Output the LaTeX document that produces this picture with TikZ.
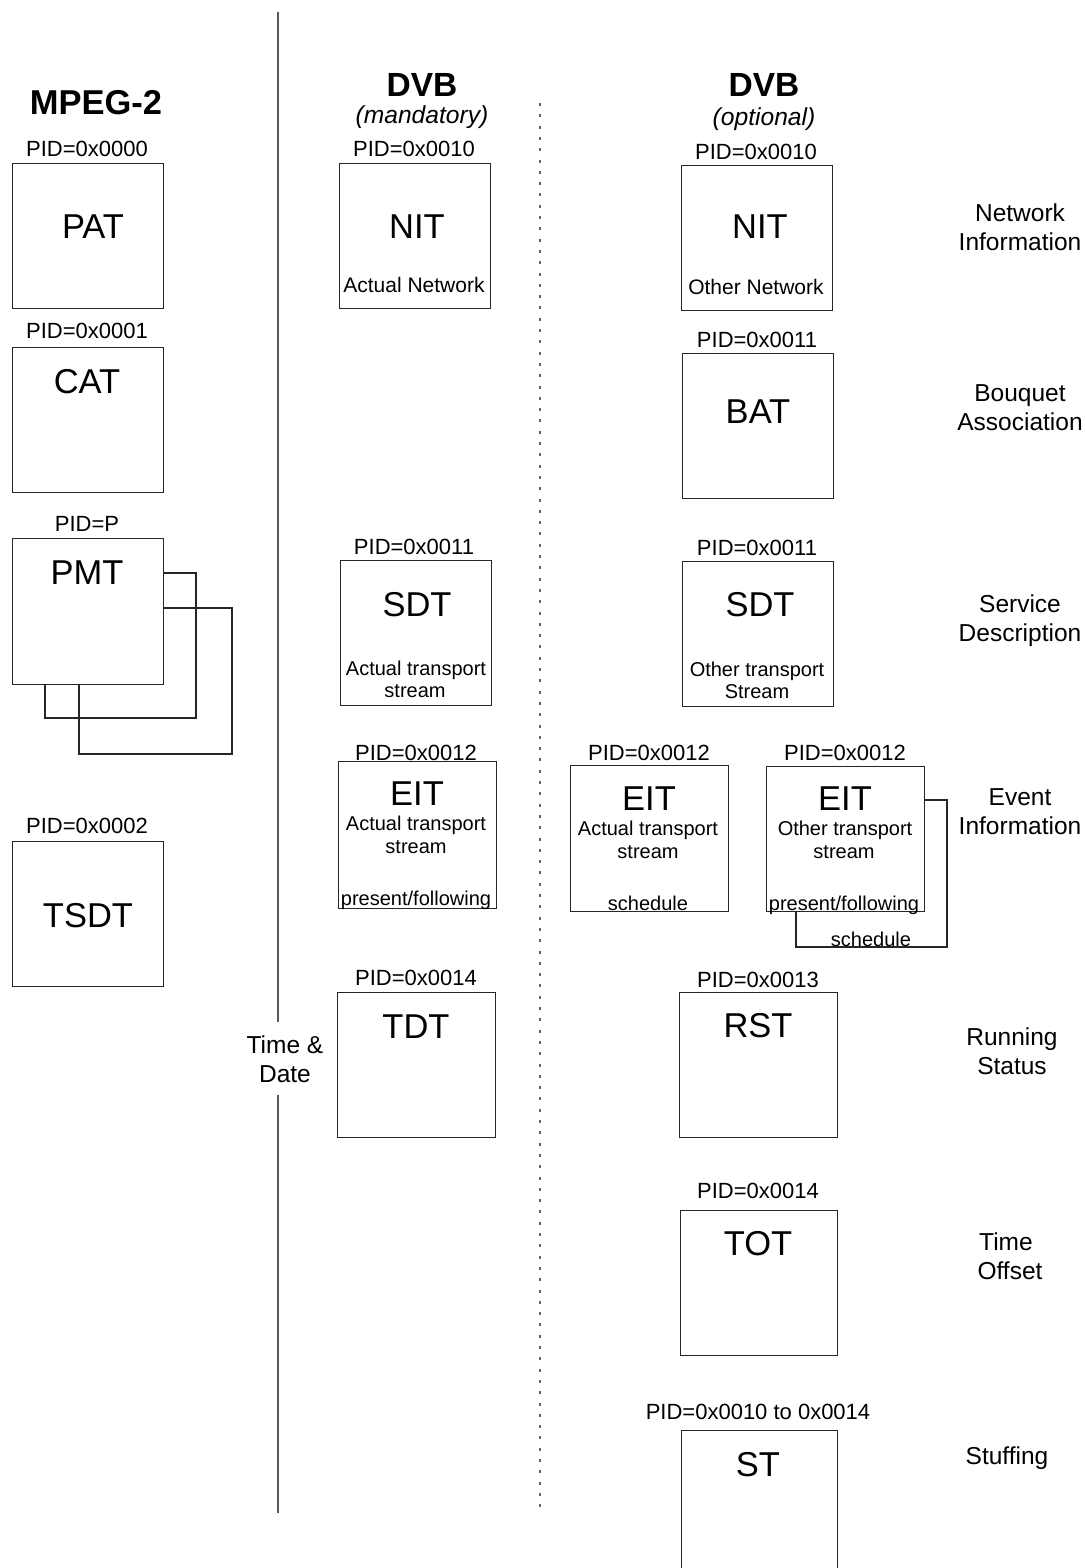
\documentclass[tikz,border=0pt]{standalone}
\usepackage{fontspec}
\setmainfont{Liberation Sans}
\begin{document}
\begin{tikzpicture}[x=1pt,y=-1pt,
  tbl/.style={draw=black!85, line width=1.1pt, fill=white, inner sep=0pt, anchor=north west},
  backbox/.style={draw=black!85, line width=1.1pt},
  pid/.style={font=\fontsize{22}{26}\selectfont, anchor=base, inner sep=0pt},
  big/.style={font=\fontsize{34.5}{40}\selectfont, anchor=base, inner sep=0pt},
  sub/.style={font=\fontsize{20}{24}\selectfont, anchor=base, inner sep=0pt},
  subn/.style={font=\fontsize{21}{25}\selectfont, anchor=base, inner sep=0pt},
  lab/.style={font=\fontsize{24.5}{29}\selectfont, anchor=base, inner sep=0pt},
  ttl/.style={font=\fontsize{34.5}{40}\selectfont\bfseries, anchor=base, inner sep=0pt},
  ttlb/.style={font=\fontsize{33.5}{40}\selectfont\bfseries, anchor=base, inner sep=0pt},
  ital/.style={font=\fontsize{24.6}{29}\selectfont\itshape, anchor=base, inner sep=0pt}]
\useasboundingbox (0,0) rectangle (1084,1568);
\clip (0,0) rectangle (1084,1568);
\fill[white] (0,0) rectangle (1084,1568);

% separators
\coordinate (s1) at (278,12);
\coordinate (s2) at (278,1022);
\coordinate (s3) at (278,1095);
\coordinate (s4) at (278,1513);
\draw[black!65, line width=1.8pt] (s1) -- (s2) (s3) -- (s4);
\coordinate (d1) at (540,103);
\coordinate (d2) at (540,1508);
\draw[black!60, line width=1.3pt, dash pattern=on 3pt off 8.3pt] (d1) -- (d2);

% titles
\node[ttl] (t1) at (96,115) {MPEG-2};
\node[ttlb] (t2) at (422,97) {DVB};
\node[ital] (t3) at (422,124) {(mandatory)};
\node[ttlb] (t4) at (764,97) {DVB};
\node[ital] (t5) at (764,126) {(optional)};

% ---------- MPEG-2 column ----------
\node[tbl, minimum width=151, minimum height=145] (pat) at (12,163) {};
\node[pid] (patpid) at (87,157) {PID=0x0000};
\node[big] (patl) at (93,238) {PAT};

\node[tbl, minimum width=151, minimum height=145] (cat) at (12,347) {};
\node[pid] (catpid) at (87,338) {PID=0x0001};
\node[big] (catl) at (87,393) {CAT};

\draw[backbox] (79,608) rectangle (232,754);
\draw[backbox] (45,573) rectangle (196,718);
\node[tbl, minimum width=151, minimum height=146] (pmt) at (12,538) {};
\node[pid] (pmtpid) at (87,531) {PID=P};
\node[big] (pmtl) at (87,584) {PMT};

\node[tbl, minimum width=151, minimum height=145] (tsdt) at (12,841) {};
\node[pid] (tsdtpid) at (87,833) {PID=0x0002};
\node[big] (tsdtl) at (88,927) {TSDT};

% ---------- DVB mandatory ----------
\node[tbl, minimum width=151, minimum height=145] (nitm) at (339,163) {};
\node[pid] (nitmpid) at (414,157) {PID=0x0010};
\node[big] (nitml) at (417,238) {NIT};
\node[subn] (nitms) at (414,292) {Actual Network};

\node[tbl, minimum width=151, minimum height=145] (sdtm) at (340,560) {};
\node[pid] (sdtmpid) at (414,554) {PID=0x0011};
\node[big] (sdtml) at (417,616) {SDT};
\node[sub] (sdtms1) at (416,675) {Actual transport};
\node[sub] (sdtms2) at (415,697) {stream};

\node[tbl, minimum width=158, minimum height=147] (eitm) at (338,761) {};
\node[pid] (eitmpid) at (416,760) {PID=0x0012};
\node[big] (eitml) at (417,805) {EIT};
\node[sub] (eitms1) at (416,830) {Actual transport};
\node[sub] (eitms2) at (416,853) {stream};
\node[sub] (eitms3) at (416,905) {present/following};

\node[tbl, minimum width=158, minimum height=145] (tdt) at (337,992) {};
\node[pid] (tdtpid) at (416,985) {PID=0x0014};
\node[big] (tdtl) at (416,1038) {TDT};

\node[lab] (td1) at (285,1053) {Time \&};
\node[lab] (td2) at (285,1082) {Date};

% ---------- DVB optional ----------
\node[tbl, minimum width=151, minimum height=145] (nito) at (681,165) {};
\node[pid] (nitopid) at (756,159) {PID=0x0010};
\node[big] (nitol) at (760,238) {NIT};
\node[subn] (nitos) at (756,294) {Other Network};

\node[tbl, minimum width=151, minimum height=145] (bat) at (682,353) {};
\node[pid] (batpid) at (757,347) {PID=0x0011};
\node[big] (batl) at (758,423) {BAT};

\node[tbl, minimum width=151, minimum height=145] (sdto) at (682,561) {};
\node[pid] (sdtopid) at (757,555) {PID=0x0011};
\node[big] (sdtol) at (760,616) {SDT};
\node[sub] (sdtos1) at (757,676) {Other transport};
\node[sub] (sdtos2) at (757,698) {Stream};

\node[tbl, minimum width=158, minimum height=146] (eit1) at (570,765) {};
\node[pid] (eit1pid) at (649,760) {PID=0x0012};
\node[big] (eit1l) at (649,810) {EIT};
\node[sub] (eit1s1) at (648,835) {Actual transport};
\node[sub] (eit1s2) at (648,858) {stream};
\node[sub] (eit1s3) at (648,910) {schedule};

\draw[backbox] (796,800) rectangle (947,947);
\node[tbl, minimum width=158, minimum height=145] (eit2) at (766,766) {};
\node[pid] (eit2pid) at (845,760) {PID=0x0012};
\node[big] (eit2l) at (845,810) {EIT};
\node[sub] (eit2s1) at (845,835) {Other transport};
\node[sub] (eit2s2) at (844,858) {stream};
\node[sub] (eit2s3) at (844,910) {present/following};
\node[sub] (eit2s4) at (871,946) {schedule};

\node[tbl, minimum width=158, minimum height=145] (rst) at (679,992) {};
\node[pid] (rstpid) at (758,987) {PID=0x0013};
\node[big] (rstl) at (758,1037) {RST};

\node[tbl, minimum width=157, minimum height=145] (tot) at (680,1210) {};
\node[pid] (totpid) at (758,1198) {PID=0x0014};
\node[big] (totl) at (758,1255) {TOT};

\node[tbl, minimum width=156, minimum height=160] (st) at (681,1430) {};
\node[pid] (stpid) at (758,1419) {PID=0x0010 to 0x0014};
\node[big] (stl) at (758,1476) {ST};

% ---------- right labels ----------
\node[lab] (r1a) at (1020,221) {Network};
\node[lab] (r1b) at (1020,250) {Information};
\node[lab] (r2a) at (1020,401) {Bouquet};
\node[lab] (r2b) at (1020,430) {Association};
\node[lab] (r3a) at (1020,612) {Service};
\node[lab] (r3b) at (1020,641) {Description};
\node[lab] (r4a) at (1020,805) {Event};
\node[lab] (r4b) at (1020,834) {Information};
\node[lab] (r5a) at (1012,1045) {Running};
\node[lab] (r5b) at (1012,1074) {Status};
\node[lab] (r6a) at (1006,1250) {Time};
\node[lab] (r6b) at (1010,1279) {Offset};
\node[lab] (r7) at (1007,1464) {Stuffing};
\end{tikzpicture}
\end{document}
